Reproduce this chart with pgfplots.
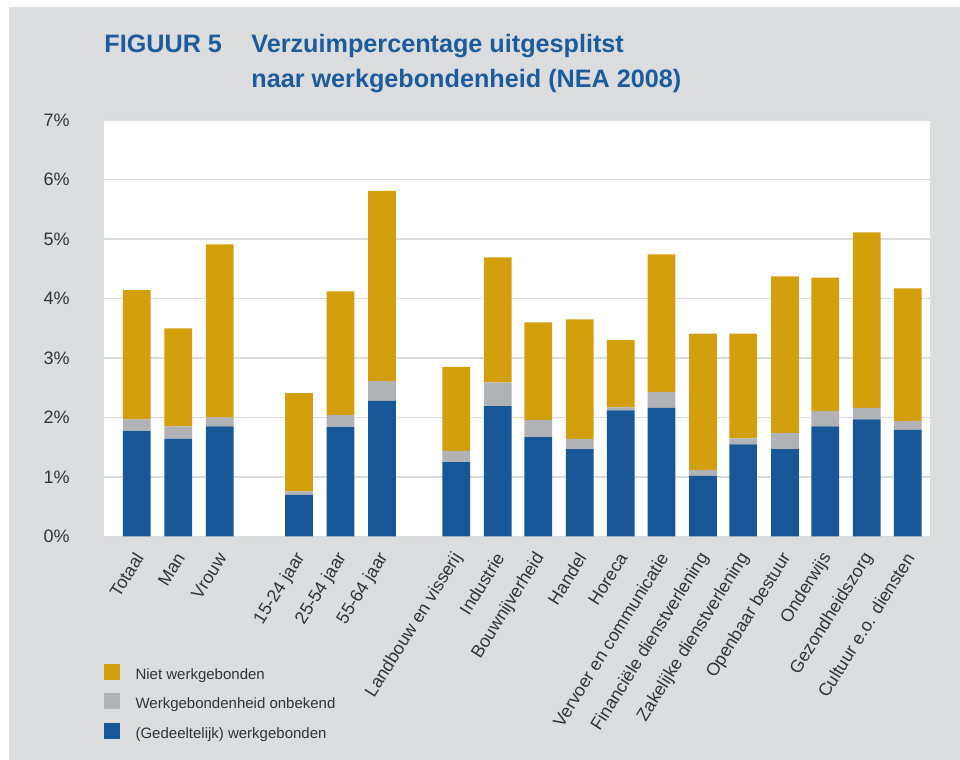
\documentclass[border=0pt]{standalone}
\usepackage{pgfplots}
\pgfplotsset{compat=1.18}
\usepackage{pgfplotstable}
\usepackage{fontspec}
\setmainfont{Liberation Sans}
\definecolor{bggrey}{HTML}{DCDDDF}
\definecolor{cblue}{HTML}{175797}
\definecolor{cgrey}{HTML}{B1B2B5}
\definecolor{cgold}{HTML}{D49F0C}
\definecolor{titleblue}{HTML}{1D5C9C}
\definecolor{txt}{HTML}{333333}
\definecolor{gridc}{HTML}{DADBDC}

\pgfplotstableread{
x     blue  grey  gold
0     1.77  0.20  2.17
1.01  1.64  0.21  1.65
2.02  1.85  0.15  2.91
3.95  0.70  0.06  1.65
4.96  1.84  0.20  2.08
5.97  2.28  0.33  3.20
7.78  1.25  0.19  1.41
8.79  2.19  0.40  2.10
9.78  1.67  0.29  1.64
10.79 1.47  0.17  2.01
11.79 2.12  0.05  1.13
12.78 2.16  0.27  2.31
13.79 1.02  0.10  2.29
14.77 1.55  0.10  1.76
15.79 1.47  0.27  2.63
16.77 1.85  0.26  2.24
17.78 1.97  0.19  2.95
18.78 1.79  0.15  2.23
}\datatable

\begin{document}
\begin{tikzpicture}
\useasboundingbox (0,0) rectangle (480pt,380pt);
\fill[white] (0,0) rectangle (480pt,380pt);
\fill[bggrey] (4.5pt,0) rectangle (480pt,376.5pt);
\node[anchor=base west, inner sep=0pt, text=titleblue, font=\bfseries\fontsize{12.6}{15}\selectfont] at (52pt,353.5pt) {FIGUUR 5};
\node[anchor=base west, inner sep=0pt, text=titleblue, font=\bfseries\fontsize{12.6}{15}\selectfont] at (125.5pt,353.5pt) {Verzuimpercentage uitgesplitst};
\node[anchor=base west, inner sep=0pt, text=titleblue, font=\bfseries\fontsize{12.6}{15}\selectfont] at (125.5pt,336pt) {naar werkgebondenheid (NEA 2008)};
\begin{axis}[
  at={(52pt,111.75pt)}, anchor=south west,
  scale only axis, width=412.75pt, height=208.25pt,
  ybar stacked, bar width=13.85pt,
  xmin=-0.80, xmax=19.31, ymin=0, ymax=7,
  axis background/.style={fill=white},
  axis line style={draw=none},
  tick style={draw=none},
  ytick={0,1,...,7},
  ymajorgrids, grid style={gridc, line width=0.9pt},
  yticklabel={\pgfmathprintnumber{\tick}\%},
  /pgf/number format/assume math mode=true,
  yticklabel style={font=\fontsize{9}{10}\selectfont, text=txt, inner sep=0pt, anchor=east, xshift=-17pt},
  xtick=data,
  xticklabels={Totaal,Man,Vrouw,15-24 jaar,25-54 jaar,55-64 jaar,Landbouw en visserij,Industrie,Bouwnijverheid,Handel,Horeca,Vervoer en communicatie,Financiële dienstverlening,Zakelijke dienstverlening,Openbaar bestuur,Onderwijs,Gezondheidszorg,Cultuur e.o. diensten},
  xticklabel style={font=\fontsize{8.9}{10}\selectfont, text=txt, inner sep=0pt, anchor=east, xshift=1.2pt, yshift=-9pt, rotate=58},
  reverse legend,
  legend cell align=left,
  legend style={at={(-0.001,-0.304)}, anchor=north west, draw=none, fill=none, inner sep=0pt,
    font=\fontsize{7.5}{9}\selectfont, text=txt, row sep=5.3pt, column sep=8pt,
    nodes={inner sep=0pt}},
]
\addplot[fill=cblue, draw=none, legend image code/.code={\fill[cblue] (0pt,-2pt) rectangle (8pt,6pt);}] table[x=x, y=blue] {\datatable};
\addplot[fill=cgrey, draw=none, legend image code/.code={\fill[cgrey] (0pt,-2pt) rectangle (8pt,6pt);}] table[x=x, y=grey] {\datatable};
\addplot[fill=cgold, draw=none, legend image code/.code={\fill[cgold] (0pt,-2pt) rectangle (8pt,6pt);}] table[x=x, y=gold] {\datatable};
\legend{(Gedeeltelijk) werkgebonden, Werkgebondenheid onbekend, Niet werkgebonden}
\end{axis}
\end{tikzpicture}
\end{document}
